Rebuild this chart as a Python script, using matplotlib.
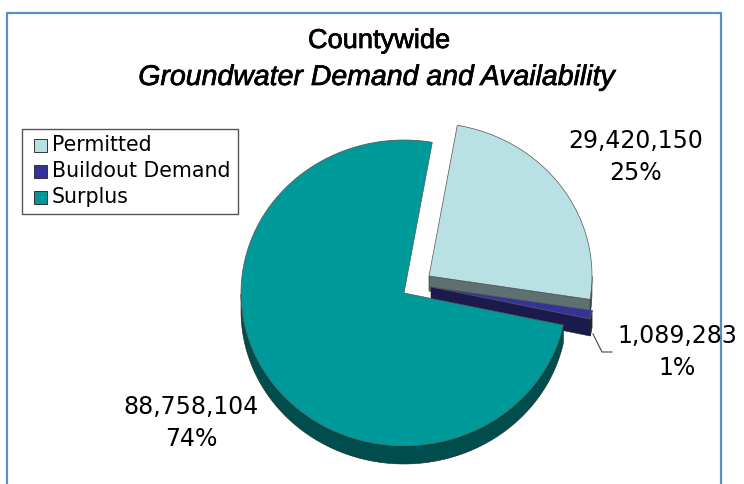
import matplotlib
matplotlib.use("Agg")
import matplotlib.pyplot as plt
import matplotlib.patheffects as pe
from matplotlib.patches import Rectangle
import numpy as np

categories = ["Permitted", "Buildout Demand", "Surplus"]
values = [29420150, 1089283, 88758104]
value_labels = ["29,420,150", "1,089,283", "88,758,104"]
pct_labels = ["25%", "1%", "74%"]
top_colors = ["#b9e0e2", "#333399", "#009999"]
side_colors = ["#5e7072", "#1a1a4d", "#004d4d"]

plt.rcParams["font.family"] = ["Liberation Sans", "DejaVu Sans"]

W, H = 744, 484
fig = plt.figure(figsize=(W / 100, H / 100), dpi=100)
ax = fig.add_axes([0, 0, 1, 1])
ax.set_xlim(0, W)
ax.set_ylim(H, 0)
ax.axis("off")

# outer frame, cut by the image at the bottom
ax.plot([7, 7, 721, 721], [484, 13, 13, 484], color="#5b8fc4", lw=1.6)

# faux medium weight for the title
thick = [pe.withStroke(linewidth=0.5, foreground="black")]
ax.text(379, 41, "Countywide", ha="center", va="center", fontsize=19.6,
        color="black", path_effects=thick)
ax.text(377, 78, "Groundwater Demand and Availability", ha="center", va="center",
        fontsize=20.5, style="italic", color="black", path_effects=thick)

# pie geometry (pixel units, y squashed a bit)
rx, ry = 163, 153
depths = [15, 17, 18]
fracs = np.array(values) / sum(values)
cum = np.concatenate([[0], np.cumsum(fracs)])
start = 80.0
centers = [(429, 276), (431, 287), (404, 293)]


def draw_wedge(i):
    a1 = start - 360 * cum[i]
    a2 = start - 360 * cum[i + 1]
    cx, cy = centers[i]
    depth = depths[i]
    t = np.linspace(a1, a2, 300)
    xs = cx + rx * np.cos(np.radians(t))
    ys = cy - ry * np.sin(np.radians(t))
    # extruded rim, only where the rim faces down
    mask = np.sin(np.radians(t)) < 0
    if mask.any():
        ax.fill(np.r_[xs[mask], xs[mask][::-1]],
                np.r_[ys[mask], ys[mask][::-1] + depth],
                color=side_colors[i], ec="#222222", lw=0.4, zorder=2 + i)
    # flat cut face for the slices that end near 3 o'clock
    if i < 2:
        ex, ey = xs[-1], ys[-1]
        ax.fill([cx, ex, ex, cx], [cy, ey, ey + depth, cy + depth],
                color=side_colors[i], ec="#222222", lw=0.4, zorder=2 + i)
    ax.fill(np.r_[cx, xs], np.r_[cy, ys], color=top_colors[i], ec="#555555",
            lw=0.5, zorder=3 + i)


for i in [0, 1, 2]:
    draw_wedge(i)

# legend box
ax.add_patch(Rectangle((22, 129), 216, 85, fc="white", ec="#555555", lw=1.0, zorder=6))
for y, c, name in zip([146, 172, 198], top_colors, categories):
    ax.add_patch(Rectangle((34, y - 7), 13, 13, fc=c, ec="#333333", lw=0.7, zorder=7))
    ax.text(52, y - 1, name, va="center", ha="left", fontsize=14.8, color="black",
            family="DejaVu Sans", zorder=7)

# data labels
label_pos = [(636, 157), (677, 352), (191, 423)]
for (x, y), v, p in zip(label_pos, value_labels, pct_labels):
    ax.text(x, y - 16, v, ha="center", va="center", fontsize=17, color="black",
            family="DejaVu Sans", zorder=8)
    ax.text(x, y + 16, p, ha="center", va="center", fontsize=17, color="black",
            family="DejaVu Sans", zorder=8)

# leader line to the small slice
ax.plot([593, 602, 612], [334, 352, 352], color="#444444", lw=0.8, zorder=8)

fig.savefig("out.png", dpi=100)
